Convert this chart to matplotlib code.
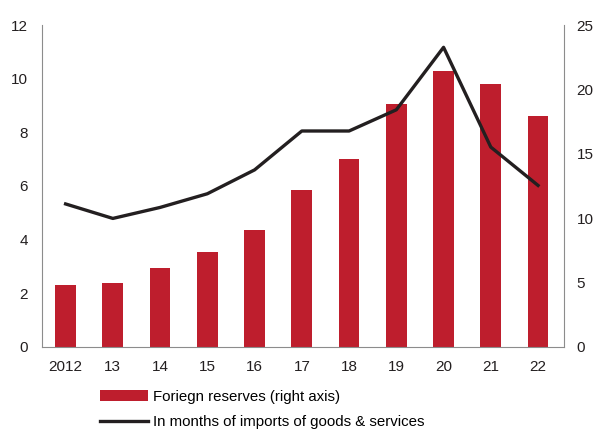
import numpy as np
import matplotlib.pyplot as plt

plt.rcParams['font.family'] = ['Liberation Sans', 'DejaVu Sans']

years = ["2012", "13", "14", "15", "16", "17", "18", "19", "20", "21", "22"]
reserves = [4.8, 5.0, 6.1, 7.4, 9.1, 12.2, 14.6, 18.9, 21.4, 20.4, 17.9]
months = [5.33, 4.79, 5.2, 5.71, 6.6, 8.05, 8.05, 8.84, 11.17, 7.45, 6.02]

fig = plt.figure(figsize=(5.98, 4.32), dpi=100)
ax = fig.add_axes([0.0702, 0.197, 0.873, 0.745])
ax2 = ax.twinx()

x = np.arange(len(years))
bars = ax2.bar(x, reserves, width=0.44, color='#be1e2d', zorder=1, label='Foriegn reserves (right axis)')
line, = ax.plot(x, months, color='#231f20', lw=2.4, zorder=3, label='In months of imports of goods & services')

# line on top of bars
ax.set_zorder(ax2.get_zorder() + 1)
ax.patch.set_visible(False)

ax.set_xlim(-0.5, 10.55)
ax.set_ylim(0, 12)
ax2.set_ylim(0, 25)
ax.set_yticks(range(0, 13, 2))
ax2.set_yticks(range(0, 26, 5))
ax.set_xticks(x)
ax.set_xticklabels(years)

for a in (ax, ax2):
    for s in a.spines.values():
        s.set_color('#8c8c8c')
    a.spines['top'].set_visible(False)
ax.spines['right'].set_visible(False)
ax2.spines['left'].set_visible(False)
ax2.spines['bottom'].set_visible(False)

ax.tick_params(axis='y', length=0, pad=10, labelsize=11, colors='#231f20')
ax.tick_params(axis='x', length=0, pad=9.5, labelsize=11, colors='#231f20')
ax2.tick_params(axis='y', length=0, pad=9, labelsize=11, colors='#231f20')

fig.legend([bars, line], [bars.get_label(), line.get_label()],
           loc='upper left', bbox_to_anchor=(0.158, 0.112), frameon=False,
           fontsize=10.8, handlelength=3.2, handletextpad=0.3, labelspacing=0.75,
           borderaxespad=0)

fig.savefig('out.png', dpi=100)
